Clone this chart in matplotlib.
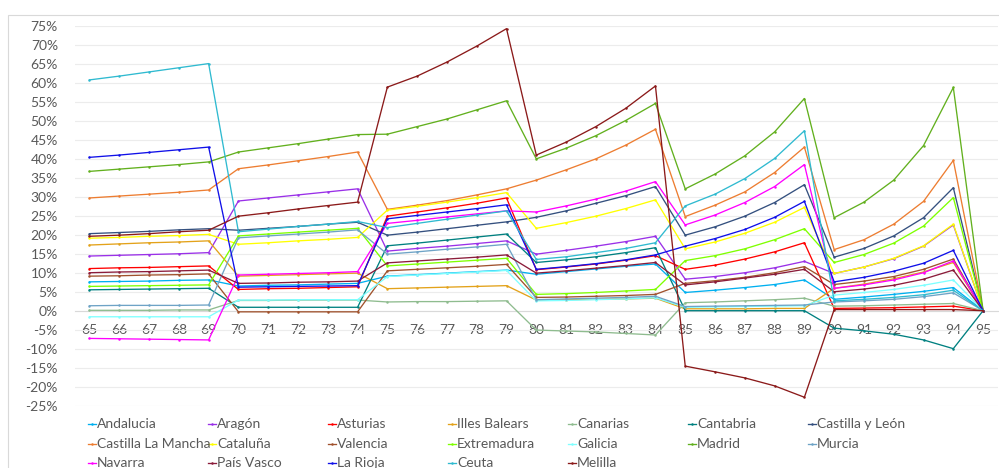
import matplotlib
matplotlib.use("Agg")
import matplotlib.pyplot as plt
from matplotlib.lines import Line2D
from matplotlib.patches import Rectangle
from matplotlib.ticker import FuncFormatter

plt.rcParams['font.family'] = ['Lato', 'DejaVu Sans']

years = [str(y) for y in range(65, 96)]

names = ["Andalucia", "Aragón", "Asturias", "Illes Balears", "Canarias", "Cantabria",
         "Castilla y León", "Castilla La Mancha", "Cataluña", "Valencia", "Extremadura",
         "Galicia", "Madrid", "Murcia", "Navarra", "País Vasco", "La Rioja", "Ceuta", "Melilla"]

colors = ["#00b0f0", "#9a30e8", "#ff0000", "#e3a21a", "#8fbc8f", "#008080",
          "#34507f", "#ed7d31", "#ffff00", "#a0522d", "#7fff00",
          "#7fffff", "#62b01e", "#6ea3c6", "#ff00ff", "#8b1c3a", "#1010e8", "#2fbad0", "#8b1a1a"]

# percentage values, one per year 65..95
andalucia = [7.6, 7.7, 7.8, 8.0, 8.1, 6.5, 6.7, 6.8, 7.0, 7.2, 9.1, 9.5, 9.9, 10.3, 10.7,
             9.6, 10.3, 11.0, 11.7, 12.3, 4.8, 5.4, 6.1, 6.9, 8.1, 3.0, 3.6, 4.3, 5.1, 6.1, 0]
aragon = [14.4, 14.6, 14.8, 15.0, 15.3, 28.9, 29.7, 30.5, 31.3, 32.1, 15.7, 16.4, 17.0, 17.7, 18.4,
          14.9, 15.9, 17.0, 18.2, 19.6, 8.3, 9.0, 10.0, 11.3, 13.0, 9.8, 11.5, 13.7, 17.0, 22.6, 0]
asturias = [11.1, 11.3, 11.4, 11.6, 11.8, 5.6, 5.8, 5.9, 6.1, 6.3, 24.9, 26.0, 27.1, 28.3, 29.7,
            10.8, 11.5, 12.3, 13.3, 14.5, 10.9, 12.0, 13.6, 15.5, 17.9, 0.6, 0.7, 0.8, 1.0, 1.2, 0]
illes_balears = [17.3, 17.6, 17.9, 18.1, 18.4, 9.1, 9.3, 9.5, 9.7, 9.9, 5.8, 6.0, 6.2, 6.4, 6.6,
                 2.8, 2.9, 3.0, 3.1, 3.3, 0.5, 0.5, 0.5, 0.6, 0.6, 5.9, 7.0, 8.4, 10.2, 12.7, 0]
canarias = [0.1, 0.1, 0.1, 0.2, 0.2, 2.7, 2.7, 2.8, 2.8, 2.8, 2.3, 2.4, 2.4, 2.5, 2.6,
            -5.1, -5.35, -5.6, -6.0, -6.4, 2.1, 2.3, 2.6, 2.9, 3.3, 1.2, 1.3, 1.5, 1.7, 1.9, 0]
cantabria = [5.5, 5.6, 5.7, 5.8, 5.9, 0.9, 0.9, 0.9, 0.9, 0.9, 17.1, 17.8, 18.6, 19.4, 20.2,
             12.7, 13.4, 14.2, 15.3, 16.6, 0.0, 0.0, 0.0, 0.0, 0.0, -4.6, -5.3, -6.2, -7.7, -10.0, 0]
castilla_leon = [20.3, 20.6, 20.9, 21.3, 21.6, 21.2, 21.7, 22.2, 22.8, 23.3, 19.9, 20.7, 21.6, 22.5, 23.4,
                 24.6, 26.3, 28.3, 30.3, 32.7, 19.9, 22.1, 24.9, 28.5, 33.2, 14.1, 16.4, 19.7, 24.5, 32.4, 0]
castilla_mancha = [29.7, 30.2, 30.7, 31.2, 31.8, 37.4, 38.4, 39.5, 40.6, 41.8, 26.7, 27.8, 29.0, 30.5, 32.1,
                   34.4, 37.1, 40.0, 43.6, 47.8, 24.8, 27.8, 31.3, 36.4, 43.1, 16.1, 18.7, 22.8, 28.8, 39.6, 0]
cataluna = [19.1, 19.3, 19.6, 19.8, 20.1, 17.5, 17.9, 18.4, 18.8, 19.3, 26.5, 27.5, 28.6, 29.8, 31.1,
            21.7, 23.2, 24.9, 26.9, 29.2, 16.3, 18.1, 20.4, 23.3, 27.2, 9.8, 11.5, 13.8, 17.1, 22.8, 0]
valencia = [9.1, 9.2, 9.4, 9.5, 9.7, -0.3, -0.3, -0.3, -0.3, -0.3, 10.5, 10.9, 11.3, 11.7, 12.2,
            3.5, 3.6, 3.8, 4.0, 4.3, 7.2, 7.9, 8.8, 10.0, 11.6, 6.9, 7.8, 9.0, 10.9, 13.6, 0]
extremadura = [6.4, 6.5, 6.6, 6.7, 6.8, 19.7, 20.2, 20.7, 21.2, 21.7, 11.8, 12.3, 12.8, 13.3, 13.8,
               4.3, 4.5, 4.8, 5.2, 5.6, 13.2, 14.5, 16.3, 18.7, 21.6, 12.7, 14.8, 17.8, 22.3, 29.8, 0]
galicia = [-1.6, -1.6, -1.6, -1.6, -1.6, 2.8, 2.8, 2.9, 2.9, 2.9, 9.0, 9.4, 9.8, 10.2, 10.6,
           2.6, 2.7, 2.9, 3.1, 3.4, 0.9, 1.0, 1.1, 1.2, 1.3, 4.1, 4.8, 5.6, 6.7, 8.1, 0]
madrid = [36.7, 37.3, 37.9, 38.5, 39.2, 41.8, 42.9, 44.0, 45.2, 46.4, 46.5, 48.5, 50.5, 52.9, 55.3,
          40.0, 42.8, 46.1, 50.1, 54.6, 32.1, 36.0, 40.8, 47.1, 55.9, 24.5, 28.6, 34.4, 43.5, 58.8, 0]
murcia = [1.3, 1.4, 1.4, 1.4, 1.5, 19.2, 19.7, 20.2, 20.7, 21.3, 14.9, 15.5, 16.2, 16.8, 17.5,
          2.9, 3.1, 3.3, 3.5, 3.8, 1.1, 1.2, 1.3, 1.4, 1.5, 2.3, 2.6, 3.0, 3.7, 4.7, 0]
navarra = [-7.3, -7.4, -7.5, -7.6, -7.7, 9.4, 9.6, 9.8, 10.0, 10.3, 23.0, 23.8, 24.7, 25.5, 26.3,
           26.0, 27.6, 29.4, 31.5, 34.0, 22.6, 25.2, 28.5, 32.7, 38.5, 5.9, 6.8, 8.1, 10.0, 13.1, 0]
pais_vasco = [10.0, 10.2, 10.3, 10.5, 10.7, 7.2, 7.3, 7.5, 7.6, 7.8, 12.6, 13.1, 13.6, 14.1, 14.7,
              9.9, 10.5, 11.2, 11.9, 12.7, 6.8, 7.6, 8.6, 9.6, 10.9, 5.0, 5.7, 6.7, 8.3, 10.7, 0]
la_rioja = [40.4, 41.0, 41.7, 42.4, 43.1, 6.2, 6.3, 6.4, 6.5, 6.6, 24.2, 25.1, 26.0, 26.9, 27.9,
            10.9, 11.6, 12.4, 13.4, 14.7, 17.0, 19.0, 21.4, 24.6, 28.8, 7.6, 8.8, 10.4, 12.5, 15.9, 0]
ceuta = [60.8, 61.8, 62.9, 64.0, 65.1, 20.8, 21.5, 22.2, 22.8, 23.5, 21.9, 23.0, 24.1, 25.2, 26.3,
         13.5, 14.2, 15.3, 16.4, 17.9, 27.6, 30.7, 34.8, 40.1, 47.4, 2.6, 3.0, 3.5, 4.2, 5.4, 0]
melilla = [19.6, 19.9, 20.3, 20.8, 21.2, 24.9, 25.8, 26.8, 27.7, 28.6, 58.9, 61.8, 65.5, 69.7, 74.3,
           41.0, 44.4, 48.5, 53.3, 59.2, -14.6, -16.1, -17.7, -19.8, -22.8, 0.3, 0.3, 0.3, 0.3, 0.3, 0]

series = [andalucia, aragon, asturias, illes_balears, canarias, cantabria, castilla_leon,
          castilla_mancha, cataluna, valencia, extremadura, galicia, madrid, murcia,
          navarra, pais_vasco, la_rioja, ceuta, melilla]

W, H = 999, 468
fig = plt.figure(figsize=(W / 100, H / 100), dpi=100)
fig.patch.set_facecolor("white")

# chart area frame
fig.patches.append(Rectangle((8 / W, -0.1), 1.2, 1 - 15 / H + 0.1, transform=fig.transFigure,
                             fill=False, edgecolor="#d9d9d9", linewidth=0.8))

ax = fig.add_axes([74.6 / W, 1 - 405.6 / H, (998 - 74.6) / W, (405.6 - 26) / H])
ax.set_facecolor("none")

x = list(range(len(years)))
for vals, col in zip(series, colors):
    ax.plot(x, vals, color=col, linewidth=0.95, marker="o", markersize=1.8,
            markeredgewidth=0, zorder=3)

ax.set_xlim(-0.5, len(years) - 0.5)
ax.set_ylim(-25, 75)
ax.set_yticks(range(-25, 76, 5))
ax.yaxis.set_major_formatter(FuncFormatter(lambda v, p: f"{int(round(v))}%"))
ax.grid(axis="y", color="#ececec", linewidth=0.8, zorder=0)
ax.set_axisbelow(True)

ax.set_xticks(x)
ax.set_xticklabels(years)
for s in ["top", "right", "left"]:
    ax.spines[s].set_visible(False)
ax.spines["bottom"].set_position(("data", 0))
ax.spines["bottom"].set_color("#d9d9d9")
ax.spines["bottom"].set_linewidth(0.8)
ax.spines["bottom"].set_zorder(1)

ax.tick_params(axis="x", length=0, pad=9.5, labelsize=10, labelcolor="#595959")
ax.tick_params(axis="y", length=0, pad=12, labelsize=10, labelcolor="#595959")

# legend laid out in a fixed grid of seven columns
for i, (name, col) in enumerate(zip(names, colors)):
    r, c = divmod(i, 7)
    lx = 88 + 120 * c
    ly = 424 + 19.7 * r
    fy = 1 - ly / H
    fig.add_artist(Line2D([lx / W, (lx + 8) / W], [fy, fy], transform=fig.transFigure,
                          color=col, linewidth=0.95))
    fig.add_artist(Line2D([(lx + 4) / W], [fy], transform=fig.transFigure, color=col,
                          marker="o", markersize=1.8, markeredgewidth=0))
    fig.text((lx + 9) / W, fy, name, fontsize=10, color="#595959", va="center", ha="left")

fig.savefig("out.png", dpi=100, facecolor="white")
